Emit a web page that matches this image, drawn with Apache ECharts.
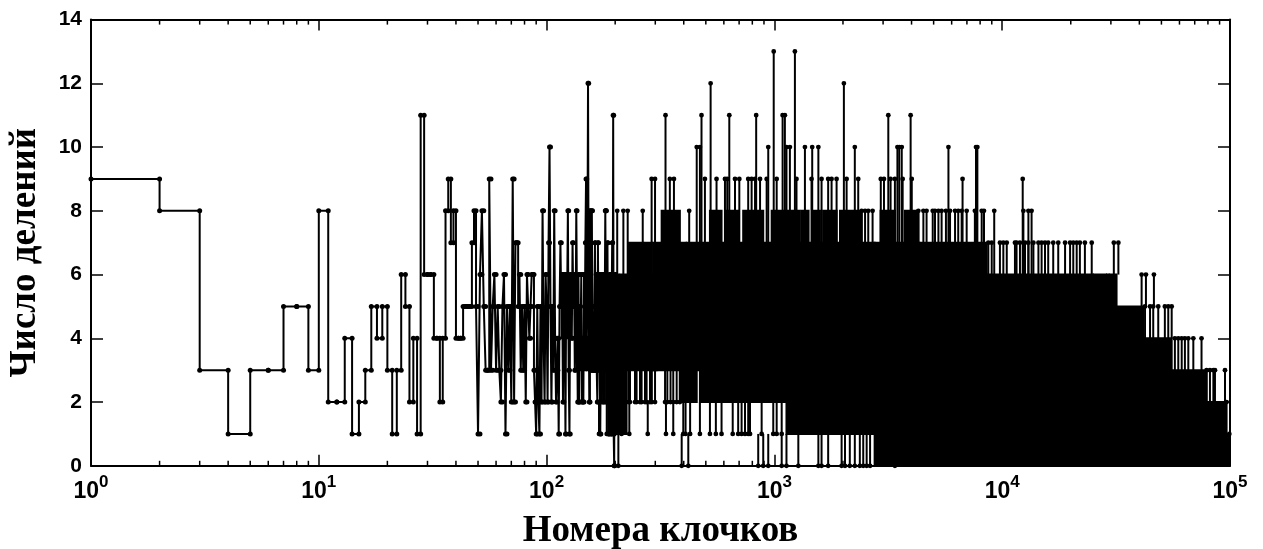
<!DOCTYPE html>
<html><head><meta charset="utf-8">
<style>html,body{margin:0;padding:0;background:#fff}#c{width:1263px;height:549px}</style>
<script src="https://cdn.jsdelivr.net/npm/echarts@6/dist/echarts.min.js"></script>
</head><body><div id="c"></div>
<script>
// Number of divisions for clump numbers 1..200 (index + 1 = clump number)
const counts = [9,8,3,1,3,3,5,5,3,8,2,2,4,1,2,3,5,4,5,3,1,3,6,5,2,4,1,11,6,
 6,6,4,4,2,4,8,9,7,8,4,4,4,5,5,5,5,7,8,5,1,6,8,5,3,3,9,3,5,6,3,
 5,3,2,5,6,1,5,3,5,2,9,2,7,7,5,6,3,5,3,5,2,6,5,4,5,6,6,3,2,1,
 5,2,1,5,2,8,4,2,6,5,2,7,10,5,2,5,3,8,4,2,3,4,1,5,7,5,6,2,6,5,
 1,6,5,8,3,1,6,5,4,7,5,6,3,4,8,5,2,6,2,5,4,6,2,4,2,6,4,7,9,4,
 6,12,5,2,8,3,5,8,3,4,3,5,7,3,6,3,2,7,4,6,3,1,4,6,3,5,2,6,3,5,
 8,8,2,5,7,3,1,4,6,2,6,1,5,7,3,11,1,0,5,6];

// Solid regions where the trace overlaps itself: log10(clump) start / end, low and high division counts
const bandStart = [2.059,2.066,2.132,2.176,2.22,2.271,2.322,2.359,2.43,2.351,2.468,2.505,2.615,2.585,2.673,2.798,3.053,
 2.717,2.783,2.863,2.988,3.068,3.12,3.17,3.214,3.288,
 3.44,3.532,3.44,4.341,4.619,4.744,4.897,4.343,4.402,4.46,4.472,3.44,3.531,3.64,3.466,3.573];
const bandEnd = [2.125,2.103,2.173,2.278,2.315,2.351,2.466,2.424,2.462,2.483,2.612,2.585,2.798,2.659,2.798,3.053,3.44,
 2.768,2.841,2.951,3.061,3.112,3.15,3.2,3.273,3.383,
 3.526,5,4.341,4.619,4.744,4.897,4.978,4.398,4.456,4.468,4.502,3.526,3.636,3.932,3.529,3.632];
const bandLow = [5,4,3,3,4,1,4,6,6,3,3,7,3,2,2,2,1,
 7,7,7,7,7,7,7,7,7,
 0,0,1,1,1,1,1,5,5,5,5,6,6,6,7,7];
const bandHigh = [6,5,4,4,6,4,6,7,7,4,7,8,7,3,3,7,7,
 8,8,8,8,8,8,8,8,8,
 1,1,6,5,4,3,2,6,6,6,6,7,7,7,8,8];

// Single peaks that stand above the solid region: log10(clump), division count
const spikeLg = [2.31,2.337,2.356,2.422,2.461,2.476,2.522,2.541,2.559,2.626,2.659,2.673,2.68,2.695,2.72,2.746,2.783,2.793,2.802,2.827,2.846,2.885,2.9,2.915,2.92,2.937,2.966,2.973,2.997,3.01,3.036,3.046,3.053,3.068,3.09,3.097,3.134,3.166,3.193,3.163,3.207,3.236,3.251,3.273,3.305,3.317,3.353,3.368,
 3.5,3.598,3.54,3.548,3.559,3.764,3.885,3.891,3.467,3.481,3.51,3.529,3.563,3.603,3.826,4.09,
 3.383,3.398,3.412,3.431,3.632,3.654,3.668,3.695,3.705,3.72,3.734,3.753,3.771,3.793,3.807,3.822,3.844,3.88,3.91,3.92,3.965,4.093,4.115,4.129,
 3.939,3.954,3.99,4.005,4.02,4.056,4.063,4.078,4.1,4.115,4.137,4.159,4.173,4.188,4.202,4.224,4.246,4.276,4.298,4.312,4.327,4.341,4.363,4.393,4.49,4.51,
 4.612,4.631,4.666,4.627,4.649,4.663,4.685,4.714,4.729,4.744,
 4.758,4.773,4.788,4.802,4.817,4.839,4.875,4.897,4.912,4.927,4.934,4.978,4.985,4.997];
const spikeTop = [8,8,8,8,9,9,11,9,9,8,10,10,11,9,12,9,9,9,11,9,9,9,9,9,11,9,9,10,13,9,11,11,10,10,13,9,10,10,10,9,9,9,9,9,12,9,10,9,
 11,11,10,10,10,10,10,10,9,9,9,9,9,9,9,9,
 8,8,8,8,8,8,8,8,8,8,8,8,8,8,8,8,8,8,8,8,8,8,8,8,
 7,7,7,7,7,7,7,7,7,7,7,7,7,7,7,7,7,7,7,7,7,7,7,7,7,7,
 6,6,6,5,5,5,5,5,5,5,
 4,4,4,4,4,4,4,3,3,3,3,3,2,1];

// Short drops below the solid region: log10(clump), lowest division count reached
const dipLg = [2.315,2.593,2.622,2.929,2.951,2.973,3.032,3.053,3.105,3.193,3.207,3.236,3.295,3.31,3.331,3.353,3.375,3.39,3.405,3.42,3.529,
 2.23,2.264,2.278,2.329,2.363,2.444,2.524,2.556,2.6,2.61,2.63,2.673,2.717,2.743,2.768,2.817,2.841,2.856,2.871,2.885,2.893,2.944,2.995,3.01,3.032,
 2.19,2.242,2.256,2.271,2.337,2.347,2.359,2.366,2.388,2.395,2.41,2.417,2.432,2.439,2.454,2.462,2.476,2.52,2.53,2.544,2.556,2.571,2.585];
const dipLow = [0,0,0,0,0,0,0,0,0,0,0,0,0,0,0,0,0,0,0,0,0,
 1,1,1,1,1,1,1,1,1,1,1,1,1,1,1,1,1,1,1,1,1,1,1,1,1,
 2,2,2,2,2,2,2,2,2,2,2,2,2,2,2,2,2,2,2,2,2,2,2];

const xTitle = 'Номера клочков';
const yTitle = 'Число делений';
const xDecades = [1,10,100,1000,10000];
const xMinorMant = [2,3,4,5,6,7,8,9];

const stairs = [];
counts.forEach((c, i) => { stairs.push([i + 1, c], [i + 2, c]); });
const bands = bandStart.map((s, i) => [Math.pow(10, s), Math.pow(10, bandEnd[i]), bandLow[i], bandHigh[i]]);
const spikes = spikeLg.map((l, i) => [Math.pow(10, l), Math.min(spikeTop[i] - 1, 6), spikeTop[i]]);
const dips = dipLg.map((l, i) => [Math.pow(10, l), dipLow[i] + 1, dipLow[i]]);
const xMinor = [];
xDecades.forEach(d => xMinorMant.forEach(m => xMinor.push([d * m, 0])));

const chart = echarts.init(document.getElementById('c'), null, {renderer: 'canvas'});
const grid = {left: 91, right: 33, top: 19.6, bottom: 83.2, outerBoundsMode: 'none', containLabel: false};
const tickLine = {color: '#000', width: 1.5};
function xa(extra) {
  return Object.assign({type: 'log', logBase: 10, min: 1, max: 100000, splitLine: {show: false},
    minorTick: {show: false},
    axisTick: {show: true, inside: true, length: 11, lineStyle: tickLine},
    axisLine: {onZero: false, lineStyle: {color: '#000', width: 2}}}, extra);
}
function ya(extra) {
  return Object.assign({type: 'value', min: 0, max: 14, interval: 2, splitLine: {show: false},
    axisTick: {show: true, inside: true, length: 12, lineStyle: tickLine},
    axisLine: {show: true, onZero: false, lineStyle: {color: '#000', width: 2}}}, extra);
}
function spikeItem(params, api) {
  const a = api.coord([api.value(0), api.value(1)]);
  const b = api.coord([api.value(0), api.value(2)]);
  return {type: 'group', children: [
    {type: 'line', shape: {x1: a[0], y1: a[1], x2: b[0], y2: b[1]}, style: {stroke: '#000', lineWidth: 2}},
    {type: 'circle', shape: {cx: b[0], cy: b[1], r: 2.4}, style: {fill: '#000'}}
  ]};
}
chart.setOption({
  animation: false,
  backgroundColor: '#fff',
  grid,
  xAxis: [
    xa({position: 'bottom', name: xTitle, nameLocation: 'middle', nameGap: 47,
      nameTextStyle: {fontFamily: 'Liberation Serif', fontWeight: 'bold', fontSize: 37, color: '#000'},
      axisLabel: {show: true, margin: 8, interval: 0, hideOverlap: false,
        formatter: v => '{b|10}{s|' + Math.round(Math.log10(v)) + '}',
        rich: {b: {fontFamily: 'Liberation Sans', fontWeight: 'bold', fontSize: 23, color: '#000', verticalAlign: 'bottom', lineHeight: 24},
               s: {fontFamily: 'Liberation Sans', fontWeight: 'bold', fontSize: 17, color: '#000', verticalAlign: 'top', padding: [0,0,12,0]}}}}),
    xa({position: 'top', axisLabel: {show: false}})
  ],
  yAxis: [
    ya({position: 'left', name: yTitle, nameLocation: 'middle', nameGap: 47, nameRotate: 90,
      nameTextStyle: {fontFamily: 'Liberation Serif', fontWeight: 'bold', fontSize: 37, color: '#000', padding: [0,20,0,0]},
      axisLabel: {margin: 9, fontFamily: 'Liberation Sans', fontWeight: 'bold', fontSize: 21, color: '#000'}}),
    ya({position: 'right', axisLabel: {show: false}})
  ],
  series: [
    {type: 'custom', name: 'minor ticks', silent: true, clip: false, data: xMinor, encode: {x: 0, y: 1},
      renderItem(params, api) {
        const a = api.coord([api.value(0), 0]);
        const b = api.coord([api.value(0), 14]);
        const st = {stroke: '#000', lineWidth: 1.5};
        return {type: 'group', children: [
          {type: 'line', shape: {x1: a[0], y1: a[1], x2: a[0], y2: a[1] - 5}, style: st},
          {type: 'line', shape: {x1: b[0], y1: b[1], x2: b[0], y2: b[1] + 5}, style: Object.assign({}, st)}
        ]};
      }},
    {type: 'custom', name: 'solid', silent: true, clip: true, data: bands, encode: {x: [0, 1], y: [2, 3]},
      renderItem(params, api) {
        const a = api.coord([api.value(0), api.value(3)]);
        const b = api.coord([api.value(1), api.value(2)]);
        return {type: 'rect', shape: {x: a[0], y: a[1], width: b[0] - a[0], height: b[1] - a[1]},
          style: {fill: '#000', stroke: '#000', lineWidth: 2}};
      }},
    {type: 'custom', name: 'peaks', silent: true, clip: false, data: spikes, encode: {x: 0, y: [1, 2]}, renderItem: spikeItem},
    {type: 'custom', name: 'dips', silent: true, clip: false, data: dips, encode: {x: 0, y: [1, 2]}, renderItem: spikeItem},
    {type: 'line', name: 'stairs', data: stairs, showSymbol: true, showAllSymbol: true, symbol: 'circle', symbolSize: 5,
      clip: false, silent: true, lineStyle: {color: '#000', width: 2}, itemStyle: {color: '#000'}}
  ]
});
</script></body></html>
